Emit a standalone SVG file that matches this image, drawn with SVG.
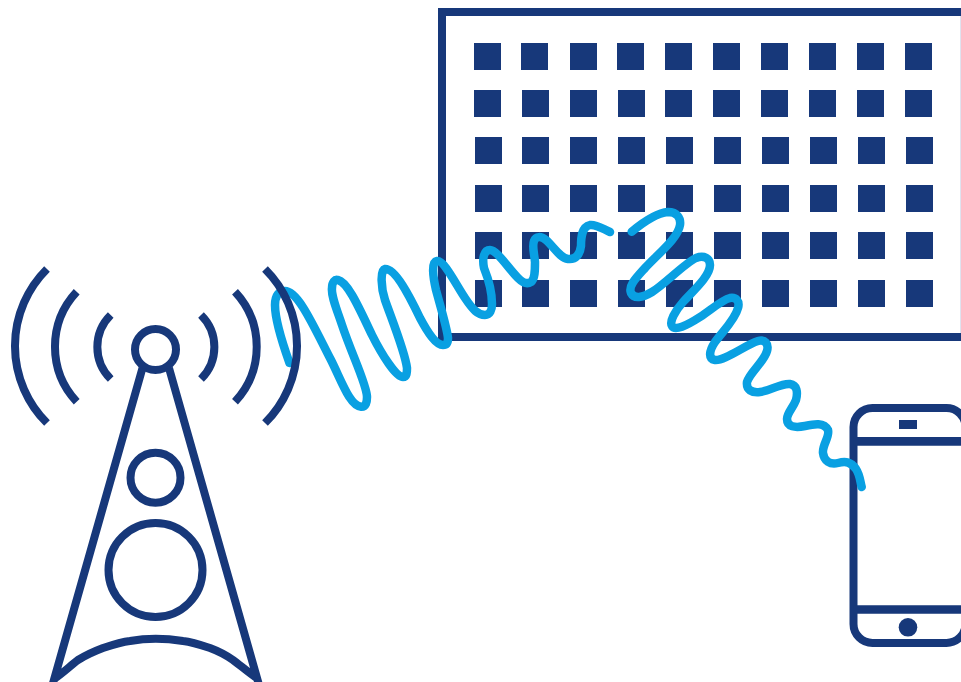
<svg xmlns="http://www.w3.org/2000/svg" width="961" height="682" viewBox="0 0 961 682">
<style>
.n{fill:none;stroke:#17387a;stroke-width:8}
.f{fill:#17387a}
.w{fill:none;stroke:#09a0e2;stroke-width:8.500;stroke-linecap:round;stroke-linejoin:round}
</style>
<defs><rect id="s" width="27" height="27" class="f"/></defs>
<rect width="961" height="682" fill="#fff"/>
<g id="panel">
<path class="n" d="M965,12H442V337H965"/>
<rect x="960" y="16" width="1" height="317" fill="#dfe3ef"/>
<g id="cells">
<use href="#s" x="474" y="43"/><use href="#s" x="521" y="43"/><use href="#s" x="570" y="43"/><use href="#s" x="617" y="43"/><use href="#s" x="665" y="43"/><use href="#s" x="713" y="43"/><use href="#s" x="761" y="43"/><use href="#s" x="809" y="43"/><use href="#s" x="857" y="43"/><use href="#s" x="905" y="43"/>
<use href="#s" x="474" y="90"/><use href="#s" x="522" y="90"/><use href="#s" x="570" y="90"/><use href="#s" x="618" y="90"/><use href="#s" x="665" y="90"/><use href="#s" x="713" y="90"/><use href="#s" x="761" y="90"/><use href="#s" x="809" y="90"/><use href="#s" x="857" y="90"/><use href="#s" x="905" y="90"/>
<use href="#s" x="475" y="137"/><use href="#s" x="522" y="137"/><use href="#s" x="570" y="137"/><use href="#s" x="618" y="137"/><use href="#s" x="666" y="137"/><use href="#s" x="714" y="137"/><use href="#s" x="762" y="137"/><use href="#s" x="810" y="137"/><use href="#s" x="858" y="137"/><use href="#s" x="906" y="137"/>
<use href="#s" x="475" y="185"/><use href="#s" x="522" y="185"/><use href="#s" x="570" y="185"/><use href="#s" x="618" y="185"/><use href="#s" x="666" y="185"/><use href="#s" x="714" y="185"/><use href="#s" x="762" y="185"/><use href="#s" x="810" y="185"/><use href="#s" x="858" y="185"/><use href="#s" x="906" y="185"/>
<use href="#s" x="475" y="232"/><use href="#s" x="522" y="232"/><use href="#s" x="570" y="232"/><use href="#s" x="618" y="232"/><use href="#s" x="666" y="232"/><use href="#s" x="714" y="232"/><use href="#s" x="762" y="232"/><use href="#s" x="810" y="232"/><use href="#s" x="858" y="232"/><use href="#s" x="906" y="232"/>
<use href="#s" x="475" y="280"/><use href="#s" x="522" y="280"/><use href="#s" x="570" y="280"/><use href="#s" x="618" y="280"/><use href="#s" x="666" y="280"/><use href="#s" x="714" y="280"/><use href="#s" x="762" y="280"/><use href="#s" x="810" y="280"/><use href="#s" x="858" y="280"/><use href="#s" x="906" y="280"/>
</g>
</g>
<g id="phone">
<rect class="n" x="853.500" y="408" width="112" height="235" rx="19"/>
<path class="n" style="stroke-width:8.700" d="M853.500,441.300H966M853.500,609.500H966"/>
<rect class="f" x="899" y="420" width="18" height="9"/>
<circle class="f" cx="908" cy="627.300" r="9.300"/>
</g>
<g id="connectors">
<path class="w" d="M289.500,363C282,342 275,320 275,305C275,295 279,291 285,291C298,291 313,325 331,360C342,382 350,406 361,406.700C366,407 367,402 367,397C367,385 352,355 342,325C337,310 331,296 332,288C332,282 335,279 338,280C348,282 360,310 372,335C382,355 396,377 403,377C407,377 407,372 407,368C405,352 392,320 385,300C381,288 380,270 385,269C395,268 410,297 420,318C428,333 436,345 443,345C447,345 448,342 448,338C447,328 440,305 436,290C433,277 431,262 437,261C444,260 455,283 465,298C473,310 478,315 485,315C490,315 492,310 492,304C492,290 488,278 484,268C482,258 484,250 490,250C497,250 508,268 518,278C524,284 528,284 531,282C535,279 535,270 535,262C534,252 532,246 534,241C536,236 541,236 546,240C553,246 560,258 568,259C576,260 580,254 581,246C581,236 582,227 590,225C596,224 603,229 610,232"/>
<path class="w" d="M631.700,231.700C641,224 655,213 668,212C677,212 681,218 680,225C678,238 660,252 645,268C636,278 628,286 631,293C634,299 642,298 652,292C665,284 685,263 696,258C704,255 710,258 710,265C710,276 694,290 683,302C675,311 669,322 672,326C675,331 686,326 700,317C712,309 722,300 730,298C736,297 740,301 738,308C735,320 722,332 715,342C709,351 708,359 715,360C725,361 745,345 758,341C765,339 769,344 767,351C764,362 750,372 747,382C746,390 752,393 760,392C770,391 781,383 790,384C797,385 798,392 796,400C793,408 787,413 787,419C787,427 795,428 805,426C814,424 824,422 828,430C830,437 822,445 823,453C824,461 830,465 838,463C846,461 851,462 856,469C860,475 860,481 861.700,487"/>
</g>
<g id="tower">
<g class="n">
<circle cx="155.500" cy="349.500" r="20.500"/>
<circle cx="155.500" cy="477.700" r="25"/>
<circle cx="155.500" cy="570" r="47"/>
<path d="M142.500,368L52.500,685M169,368L259,685M54,679C63,673 70,666 78,660C86,655 95,651 103,648C112,645 121,642 130,641C147,638 164,638 183,641C192,642 201,645 210,648C218,651 226,655 233,660C241,666 249,673 258,679"/>
<path d="M47,269A108.600,108.600 0 0 0 47,423M76.700,291.700A80.500,80.500 0 0 0 76.700,401.700M110.700,315A45,45 0 0 0 110.700,379M265,269A108.600,108.600 0 0 1 265,423M235,291.700A80.500,80.500 0 0 1 235,401.700M201,315A45,45 0 0 1 201,379"/>
</g>
</g>
</svg>
